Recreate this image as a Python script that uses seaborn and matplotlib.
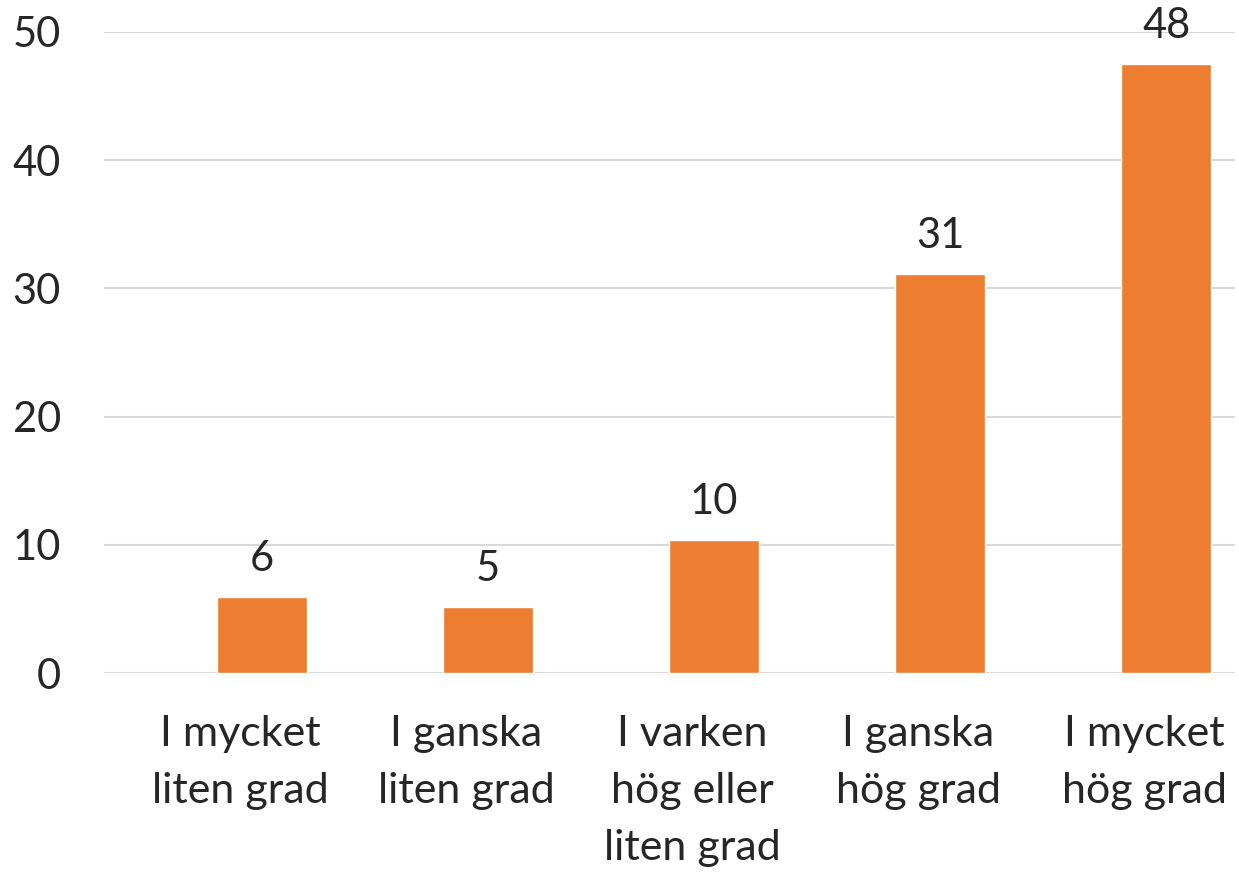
import matplotlib
matplotlib.use("Agg")
import matplotlib.pyplot as plt
import matplotlib.transforms as mtransforms
import seaborn as sns
import pandas as pd

categories = ["I mycket\nliten grad", "I ganska\nliten grad", "I varken\nhög eller\nliten grad",
              "I ganska\nhög grad", "I mycket\nhög grad"]
values = [5.93, 5.15, 10.37, 31.12, 47.5]
labels = ["6", "5", "10", "31", "48"]
yticks = [0, 10, 20, 30, 40, 50]

sns.set_theme(style="white")
plt.rcParams['font.family'] = ['Lato', 'DejaVu Sans']

df = pd.DataFrame({"cat": categories, "val": values})

fig = plt.figure(figsize=(12.39, 8.76), dpi=100)
ax = fig.add_axes([0.0839, 0.2317, 0.9129, 0.7318])

sns.barplot(data=df, x="cat", y="val", color="#ED7D31", saturation=1, width=0.4, ax=ax)

ax.set_ylim(0, 50)
ax.set_xlim(-0.70, 4.305)
ax.set_yticks(yticks)
ax.set_yticklabels([str(t) for t in yticks])
ax.yaxis.grid(True, color="#D9D9D9", linewidth=1.5)
ax.set_axisbelow(True)
for s in ax.spines.values():
    s.set_visible(False)
ax.set_xlabel("")
ax.set_ylabel("")
ax.tick_params(axis="y", length=0, pad=31, labelsize=30, labelcolor="#262626")
ax.tick_params(axis="x", length=0, pad=30, labelsize=31, labelcolor="#262626")
offset = mtransforms.ScaledTranslation(-0.22, 0, fig.dpi_scale_trans)
for t in ax.get_xticklabels():
    t.set_linespacing(1.62)
    t.set_transform(t.get_transform() + offset)

ax.bar_label(ax.containers[0], labels=labels, padding=14, fontsize=30, color="#262626", clip_on=False)

fig.savefig("out.png", dpi=100)
